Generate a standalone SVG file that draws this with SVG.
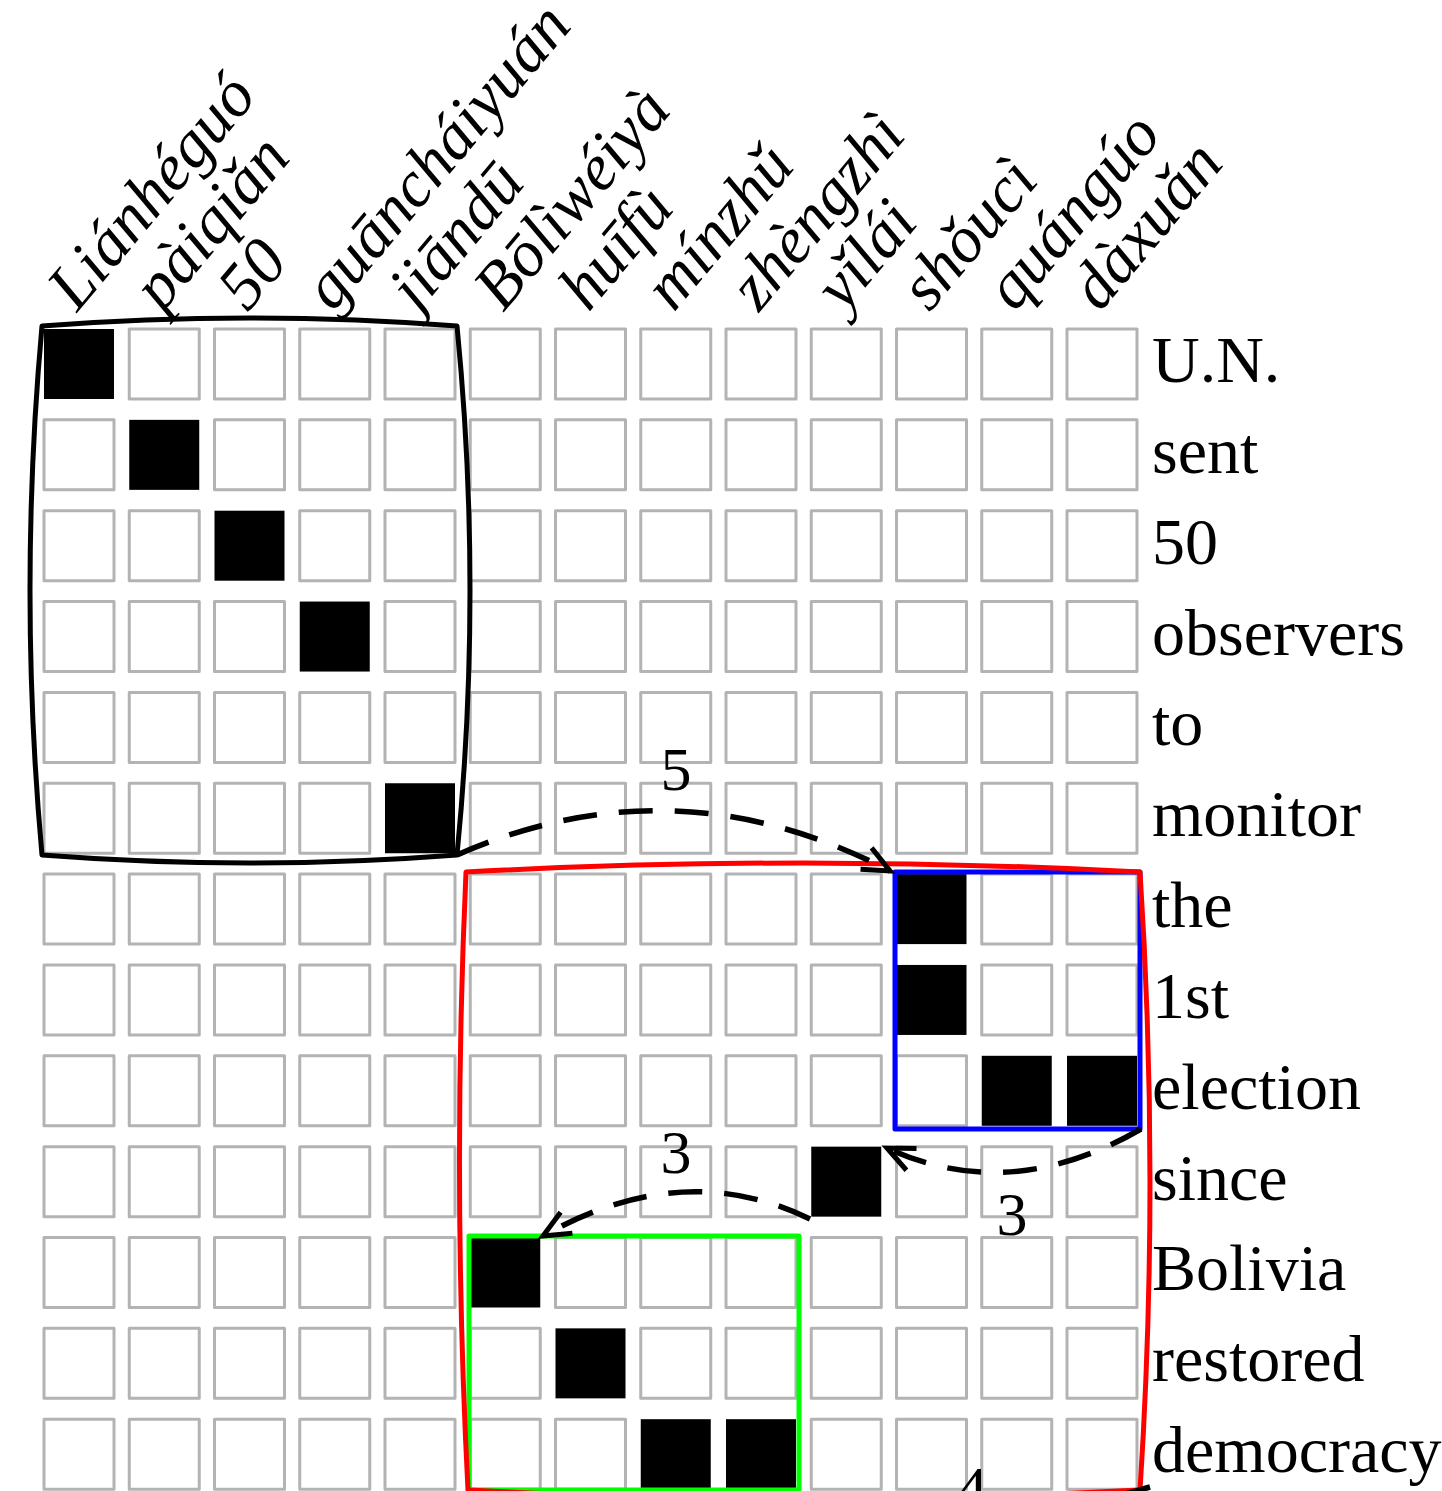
<svg xmlns="http://www.w3.org/2000/svg" width="1442" height="1491" viewBox="0 0 1442 1491">
  <style>
    .c { fill: #ffffff; stroke: #b3b3b3; stroke-width: 3; stroke-linejoin: round; }
    .b { fill: #000000; }
    .row { font-family: "Liberation Serif", "Times New Roman", serif; font-size: 66px; fill: #000; }
    .col { font-family: "Liberation Serif", "Times New Roman", serif; font-size: 66px; font-style: italic; fill: #000; }
    .num { font-family: "Liberation Serif", "Times New Roman", serif; font-size: 62px; fill: #000; text-anchor: middle; }
    .box { fill: none; stroke-width: 5; stroke-linejoin: round; }
    .dash { fill: none; stroke: #000; stroke-width: 5.5; stroke-dasharray: 34 22; }
  </style>
  <defs>
    <marker id="arrow" markerUnits="userSpaceOnUse" markerWidth="44" markerHeight="44" refX="0" refY="0" viewBox="-34 -22 44 44" orient="auto">
      <path d="M-27,-12 L0,0 L-27,12" fill="none" stroke="#000" stroke-width="5" stroke-dasharray="none"/>
    </marker>
    <rect id="cell" class="c" width="70" height="70"/>
    <rect id="fill" class="b" width="70" height="70"/>
  </defs>
  <rect width="1442" height="1491" fill="#ffffff"/>

  <!-- alignment grid: 13 columns x 13 rows -->
  <g id="grid">
    <g id="r0" transform="translate(0,329)">
      <use href="#fill" x="44"/><use href="#cell" x="129.25"/><use href="#cell" x="214.5"/><use href="#cell" x="299.75"/><use href="#cell" x="385"/><use href="#cell" x="470.25"/><use href="#cell" x="555.5"/><use href="#cell" x="640.75"/><use href="#cell" x="726"/><use href="#cell" x="811.25"/><use href="#cell" x="896.5"/><use href="#cell" x="981.75"/><use href="#cell" x="1067"/>
    </g>
    <g id="r1" transform="translate(0,419.85)">
      <use href="#cell" x="44"/><use href="#fill" x="129.25"/><use href="#cell" x="214.5"/><use href="#cell" x="299.75"/><use href="#cell" x="385"/><use href="#cell" x="470.25"/><use href="#cell" x="555.5"/><use href="#cell" x="640.75"/><use href="#cell" x="726"/><use href="#cell" x="811.25"/><use href="#cell" x="896.5"/><use href="#cell" x="981.75"/><use href="#cell" x="1067"/>
    </g>
    <g id="r2" transform="translate(0,510.7)">
      <use href="#cell" x="44"/><use href="#cell" x="129.25"/><use href="#fill" x="214.5"/><use href="#cell" x="299.75"/><use href="#cell" x="385"/><use href="#cell" x="470.25"/><use href="#cell" x="555.5"/><use href="#cell" x="640.75"/><use href="#cell" x="726"/><use href="#cell" x="811.25"/><use href="#cell" x="896.5"/><use href="#cell" x="981.75"/><use href="#cell" x="1067"/>
    </g>
    <g id="r3" transform="translate(0,601.55)">
      <use href="#cell" x="44"/><use href="#cell" x="129.25"/><use href="#cell" x="214.5"/><use href="#fill" x="299.75"/><use href="#cell" x="385"/><use href="#cell" x="470.25"/><use href="#cell" x="555.5"/><use href="#cell" x="640.75"/><use href="#cell" x="726"/><use href="#cell" x="811.25"/><use href="#cell" x="896.5"/><use href="#cell" x="981.75"/><use href="#cell" x="1067"/>
    </g>
    <g id="r4" transform="translate(0,692.4)">
      <use href="#cell" x="44"/><use href="#cell" x="129.25"/><use href="#cell" x="214.5"/><use href="#cell" x="299.75"/><use href="#cell" x="385"/><use href="#cell" x="470.25"/><use href="#cell" x="555.5"/><use href="#cell" x="640.75"/><use href="#cell" x="726"/><use href="#cell" x="811.25"/><use href="#cell" x="896.5"/><use href="#cell" x="981.75"/><use href="#cell" x="1067"/>
    </g>
    <g id="r5" transform="translate(0,783.25)">
      <use href="#cell" x="44"/><use href="#cell" x="129.25"/><use href="#cell" x="214.5"/><use href="#cell" x="299.75"/><use href="#fill" x="385"/><use href="#cell" x="470.25"/><use href="#cell" x="555.5"/><use href="#cell" x="640.75"/><use href="#cell" x="726"/><use href="#cell" x="811.25"/><use href="#cell" x="896.5"/><use href="#cell" x="981.75"/><use href="#cell" x="1067"/>
    </g>
    <g id="r6" transform="translate(0,874.1)">
      <use href="#cell" x="44"/><use href="#cell" x="129.25"/><use href="#cell" x="214.5"/><use href="#cell" x="299.75"/><use href="#cell" x="385"/><use href="#cell" x="470.25"/><use href="#cell" x="555.5"/><use href="#cell" x="640.75"/><use href="#cell" x="726"/><use href="#cell" x="811.25"/><use href="#fill" x="896.5"/><use href="#cell" x="981.75"/><use href="#cell" x="1067"/>
    </g>
    <g id="r7" transform="translate(0,964.95)">
      <use href="#cell" x="44"/><use href="#cell" x="129.25"/><use href="#cell" x="214.5"/><use href="#cell" x="299.75"/><use href="#cell" x="385"/><use href="#cell" x="470.25"/><use href="#cell" x="555.5"/><use href="#cell" x="640.75"/><use href="#cell" x="726"/><use href="#cell" x="811.25"/><use href="#fill" x="896.5"/><use href="#cell" x="981.75"/><use href="#cell" x="1067"/>
    </g>
    <g id="r8" transform="translate(0,1055.8)">
      <use href="#cell" x="44"/><use href="#cell" x="129.25"/><use href="#cell" x="214.5"/><use href="#cell" x="299.75"/><use href="#cell" x="385"/><use href="#cell" x="470.25"/><use href="#cell" x="555.5"/><use href="#cell" x="640.75"/><use href="#cell" x="726"/><use href="#cell" x="811.25"/><use href="#cell" x="896.5"/><use href="#fill" x="981.75"/><use href="#fill" x="1067"/>
    </g>
    <g id="r9" transform="translate(0,1146.65)">
      <use href="#cell" x="44"/><use href="#cell" x="129.25"/><use href="#cell" x="214.5"/><use href="#cell" x="299.75"/><use href="#cell" x="385"/><use href="#cell" x="470.25"/><use href="#cell" x="555.5"/><use href="#cell" x="640.75"/><use href="#cell" x="726"/><use href="#fill" x="811.25"/><use href="#cell" x="896.5"/><use href="#cell" x="981.75"/><use href="#cell" x="1067"/>
    </g>
    <g id="r10" transform="translate(0,1237.5)">
      <use href="#cell" x="44"/><use href="#cell" x="129.25"/><use href="#cell" x="214.5"/><use href="#cell" x="299.75"/><use href="#cell" x="385"/><use href="#fill" x="470.25"/><use href="#cell" x="555.5"/><use href="#cell" x="640.75"/><use href="#cell" x="726"/><use href="#cell" x="811.25"/><use href="#cell" x="896.5"/><use href="#cell" x="981.75"/><use href="#cell" x="1067"/>
    </g>
    <g id="r11" transform="translate(0,1328.35)">
      <use href="#cell" x="44"/><use href="#cell" x="129.25"/><use href="#cell" x="214.5"/><use href="#cell" x="299.75"/><use href="#cell" x="385"/><use href="#cell" x="470.25"/><use href="#fill" x="555.5"/><use href="#cell" x="640.75"/><use href="#cell" x="726"/><use href="#cell" x="811.25"/><use href="#cell" x="896.5"/><use href="#cell" x="981.75"/><use href="#cell" x="1067"/>
    </g>
    <g id="r12" transform="translate(0,1419.2)">
      <use href="#cell" x="44"/><use href="#cell" x="129.25"/><use href="#cell" x="214.5"/><use href="#cell" x="299.75"/><use href="#cell" x="385"/><use href="#cell" x="470.25"/><use href="#cell" x="555.5"/><use href="#fill" x="640.75"/><use href="#fill" x="726"/><use href="#cell" x="811.25"/><use href="#cell" x="896.5"/><use href="#cell" x="981.75"/><use href="#cell" x="1067"/>
    </g>
  </g>

  <!-- phrase blocks -->
  <g id="block-black">
    <path class="box" stroke="#000000" d="M42,326 Q250,310 457,326 Q483,590 457,855 Q250,871 42,855 Q18,590 42,326 Z"/>
  </g>
  <g id="block-blue">
    <rect class="box" stroke="#0000ff" x="895" y="872" width="245" height="257"/>
  </g>
  <g id="block-green">
    <rect class="box" stroke="#00ff00" x="469" y="1236" width="330" height="254"/>
  </g>
  <g id="block-red">
    <path class="box" stroke="#ff0000" d="M466,872 Q803,854 1140,872 Q1160,1181 1140,1490 Q803,1508 468,1490 Q452,1181 466,872 Z"/>
  </g>

  <!-- reordering arcs -->
  <g id="connectors">
    <path class="dash" d="M457,855 Q675,759 890,871" marker-end="url(#arrow)"/>
    <path class="dash" d="M1141,1129 Q1010,1205 887,1148" marker-end="url(#arrow)"/>
    <path class="dash" d="M810,1219 Q683,1157 543,1236" marker-end="url(#arrow)"/>
    <path class="dash" d="M1150,1487 Q1000,1530 800,1570"/>
  </g>
  <g id="arc-labels">
    <text class="num" x="676" y="790">5</text>
    <text class="num" x="1012" y="1235">3</text>
    <text class="num" x="676" y="1173">3</text>
    <text class="num" x="972" y="1509">4</text>
  </g>

  <!-- source words along the top -->
  <g id="source-words">
    <text class="col" transform="translate(77,313) rotate(-50)">Liánhéguó</text>
    <text class="col" transform="translate(162.25,313) rotate(-50)">pàiqiǎn</text>
    <text class="col" transform="translate(247.5,313) rotate(-50)">50</text>
    <text class="col" transform="translate(332.75,313) rotate(-50)">guāncháiyuán</text>
    <text class="col" transform="translate(418,313) rotate(-50)">jiāndū</text>
    <text class="col" transform="translate(503.25,313) rotate(-50)">Bōlìwéiyà</text>
    <text class="col" transform="translate(588.5,313) rotate(-50)">huīfù</text>
    <text class="col" transform="translate(673.75,313) rotate(-50)">mínzhǔ</text>
    <text class="col" transform="translate(759,313) rotate(-50)">zhèngzhì</text>
    <text class="col" transform="translate(844.25,313) rotate(-50)">yǐlái</text>
    <text class="col" transform="translate(929.5,313) rotate(-50)">shǒucì</text>
    <text class="col" transform="translate(1014.75,313) rotate(-50)">quángúo</text>
    <text class="col" transform="translate(1100,313) rotate(-50)">dàxuǎn</text>
  </g>

  <!-- target words down the right side -->
  <g id="target-words">
    <text class="row" x="1152" y="382">U.N.</text>
    <text class="row" x="1152" y="473">sent</text>
    <text class="row" x="1152" y="564">50</text>
    <text class="row" x="1152" y="655">observers</text>
    <text class="row" x="1152" y="745">to</text>
    <text class="row" x="1152" y="836">monitor</text>
    <text class="row" x="1152" y="927">the</text>
    <text class="row" x="1152" y="1018">1st</text>
    <text class="row" x="1152" y="1109">election</text>
    <text class="row" x="1152" y="1200">since</text>
    <text class="row" x="1152" y="1290">Bolivia</text>
    <text class="row" x="1152" y="1381">restored</text>
    <text class="row" x="1152" y="1472">democracy</text>
  </g>
</svg>
